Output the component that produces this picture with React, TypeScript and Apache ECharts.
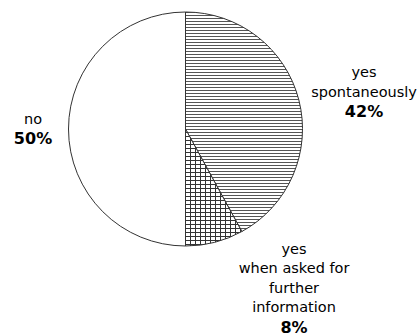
import React, { useEffect, useRef } from "react";
import * as echarts from "echarts";

const categories = ["yes\nspontaneously", "yes\nwhen asked for\nfurther\ninformation", "no"];
const values = [42, 8, 50];

// label anchor positions (layout only)
const labelAnchors = [
  [364, 92],
  [294, 288],
  [33, 129],
];

function makePattern(w: number, h: number, draw: (ctx: CanvasRenderingContext2D) => void) {
  const c = document.createElement("canvas");
  c.width = w;
  c.height = h;
  const ctx = c.getContext("2d")!;
  ctx.fillStyle = "#ffffff";
  ctx.fillRect(0, 0, w, h);
  draw(ctx);
  return { image: c, imageWidth: w, imageHeight: h, repeat: "repeat" } as any;
}

export default function App() {
  const ref = useRef<HTMLDivElement>(null);
  useEffect(() => {
    const chart = echarts.init(ref.current!, null, { renderer: "svg" });
    const hLines = makePattern(4, 3, (ctx) => {
      ctx.fillStyle = "#555555";
      ctx.fillRect(0, 0, 4, 1);
    });
    const grid = makePattern(5, 4, (ctx) => {
      ctx.fillStyle = "#333333";
      ctx.fillRect(0, 0, 5, 1);
      ctx.fillRect(0, 0, 1, 4);
    });
    const fills = [hLines, grid, "#ffffff"];
    chart.setOption({
      animation: false,
      backgroundColor: "#ffffff",
      series: [
        {
          type: "pie",
          center: [185.5, 129],
          radius: 117,
          startAngle: 90,
          clockwise: true,
          avoidLabelOverlap: false,
          data: categories.map((name, i) => ({
            name,
            value: values[i],
            itemStyle: { color: fills[i] },
          })),
          itemStyle: { borderColor: "#333333", borderWidth: 1 },
          labelLine: { show: false },
          label: {
            show: true,
            position: "outside",
            formatter: "{n|{b}}\n{p|{d}%}",
            align: "center",
            rich: {
              n: {
                fontFamily: "DejaVu Sans",
                fontSize: 14.5,
                color: "#000",
                lineHeight: 19.5,
                align: "center",
              },
              p: {
                fontFamily: "DejaVu Sans",
                fontSize: 16,
                fontWeight: "bold",
                color: "#000",
                lineHeight: 20,
                align: "center",
              },
            },
          },
          labelLayout: (params: any) => {
            const a = labelAnchors[params.dataIndex];
            return { x: a[0], y: a[1], align: "center", verticalAlign: "middle" };
          },
          emphasis: { disabled: true },
        },
      ],
    });
    return () => chart.dispose();
  }, []);
  return (
    <div
      ref={ref}
      style={{ position: "fixed", left: 0, top: 0, width: 419, height: 333 }}
    />
  );
}
